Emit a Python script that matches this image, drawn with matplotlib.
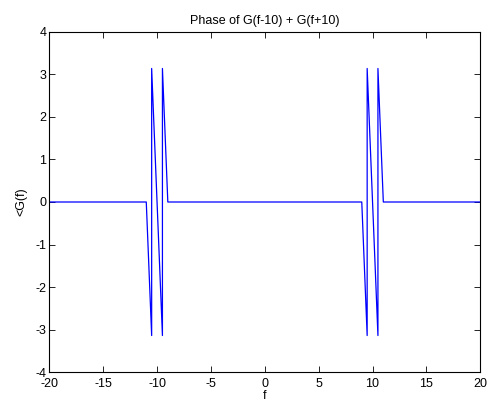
import numpy as np
import matplotlib
matplotlib.use("Agg")
import matplotlib.pyplot as plt

# Phase breakpoints (straight segments between them)
pi = np.pi
f_pts = [-20, -11, -10.5, -10.5, -9.5, -9.5, -9, 9, 9.5, 9.5, 10.5, 10.5, 11, 20]
phase_pts = [0, 0, -pi, pi, -pi, pi, 0, 0, -pi, pi, -pi, pi, 0, 0]

x_ticks = [-20, -15, -10, -5, 0, 5, 10, 15, 20]
y_ticks = [-4, -3, -2, -1, 0, 1, 2, 3, 4]

plt.rcParams["font.family"] = ["Liberation Sans", "DejaVu Sans"]
plt.rcParams["font.size"] = 9
plt.rcParams["axes.unicode_minus"] = False

fig = plt.figure(figsize=(4.9, 4.04), dpi=100)
ax = fig.add_axes([0.1006, 0.0792, 0.8796, 0.8416])

ax.plot(f_pts, phase_pts, color="#0000ff", linewidth=0.9)

ax.set_xlim(-20, 20)
ax.set_ylim(-4, 4)
ax.set_xticks(x_ticks)
ax.set_yticks(y_ticks)
ax.tick_params(direction="in", top=True, right=True, length=4, width=0.6, pad=2)
ax.tick_params(axis="x", pad=4)
for s in ax.spines.values():
    s.set_linewidth(0.8)

ax.set_title("Phase of G(f-10) + G(f+10)", fontsize=9, pad=6)
ax.set_xlabel("f", labelpad=0)
ax.set_ylabel("<G(f)", labelpad=6)

fig.savefig("out.png", dpi=100)
